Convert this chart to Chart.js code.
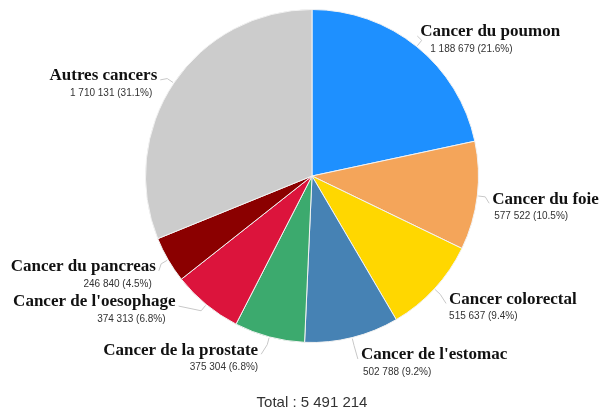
<!DOCTYPE html>
<html>
<head>
<meta charset="utf-8">
<script src="https://cdn.jsdelivr.net/npm/chart.js@4/dist/chart.umd.min.js"></script>
<style>
  html, body { margin: 0; padding: 0; background: #fff; }
  #wrap { width: 599px; height: 413px; position: relative; }
</style>
</head>
<body>
<div id="wrap"><canvas id="pie"></canvas></div>
<script>
// Data
const labels = ['Cancer du poumon', 'Cancer du foie', 'Cancer colorectal', "Cancer de l'estomac",
  'Cancer de la prostate', "Cancer de l'oesophage", 'Cancer du pancreas', 'Autres cancers'];
const values = [1188679, 577522, 515637, 502788, 375304, 374313, 246840, 1710131];
const colors = ['#1E90FF', '#F4A55A', '#FFD700', '#4682B4', '#3CAA6E', '#DC143C', '#8B0000', '#CCCCCC'];

const total = values.reduce((s, v) => s + v, 0);
const fmt = (n) => String(n).replace(/\B(?=(\d{3})+(?!\d))/g, ' ');

// small manual nudges so labels don't collide (dx, dy), plus value text shift
const nudges = [[-9, 3], [-5, 3], [0, -1], [4, 0], [-6, -4], [-18, -16], [5, -1], [0, 6]];
const valShift = [10, 2, 0, 2, 0, -10, -4, -5];

// Outside labels with leader lines
const outLabels = {
  id: 'outLabels',
  afterDatasetsDraw(chart) {
    const ctx = chart.ctx;
    const meta = chart.getDatasetMeta(0);
    ctx.save();
    meta.data.forEach((arc, i) => {
      const mid = (arc.startAngle + arc.endAngle) / 2;
      const r = arc.outerRadius;
      const cos = Math.cos(mid), sin = Math.sin(mid);
      const right = cos >= 0;
      const ax = arc.x + cos * (r + 20) + nudges[i][0];
      const ay = arc.y + sin * (r + 20) + nudges[i][1];

      // leader line
      ctx.strokeStyle = '#c8c8c8';
      ctx.lineWidth = 1;
      ctx.beginPath();
      ctx.moveTo(arc.x + cos * (r + 1), arc.y + sin * (r + 1));
      ctx.lineTo(arc.x + cos * (r + 8), arc.y + sin * (r + 8));
      ctx.lineTo(ax + (right ? -3 : 3), ay + 2);
      ctx.stroke();

      ctx.textAlign = right ? 'left' : 'right';
      ctx.textBaseline = 'middle';
      ctx.fillStyle = '#111';
      ctx.font = 'bold 17px "Liberation Serif", "Times New Roman", serif';
      ctx.fillText(labels[i], ax, ay - 2);

      ctx.fillStyle = '#333';
      ctx.font = '10px "Liberation Sans", Arial, sans-serif';
      const pct = (values[i] / total * 100).toFixed(1);
      ctx.fillText(`${fmt(values[i])} (${pct}%)`, ax + valShift[i], ay + 15);
    });

    // total
    ctx.textAlign = 'center';
    ctx.fillStyle = '#333';
    ctx.font = '15px "Liberation Sans", Arial, sans-serif';
    ctx.fillText(`Total : ${fmt(total)}`, 312, 403);
    ctx.restore();
  }
};

new Chart(document.getElementById('pie'), {
  type: 'pie',
  data: {
    labels,
    datasets: [{
      data: values,
      backgroundColor: colors,
      borderColor: '#f2f2f2',
      borderWidth: 1
    }]
  },
  options: {
    responsive: true,
    maintainAspectRatio: false,
    animation: false,
    layout: { padding: { top: 9, bottom: 70, left: 100, right: 75 } },
    plugins: {
      legend: { display: false },
      tooltip: { enabled: false }
    }
  },
  plugins: [outLabels]
});
</script>
</body>
</html>
